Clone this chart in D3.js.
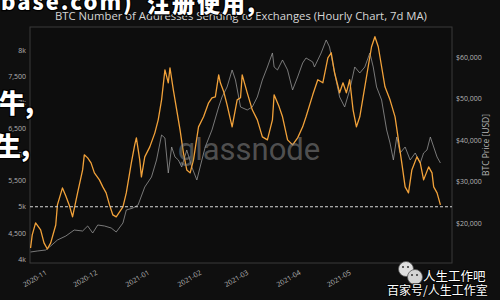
<!DOCTYPE html>
<html><head><meta charset="utf-8">
<script src="https://cdn.jsdelivr.net/npm/d3@7"></script>
<style>
html,body{margin:0;padding:0;background:#0f0f0f;overflow:hidden;}
svg{display:block;}
</style></head><body>
<svg id="c" width="500" height="300"></svg>
<script>
// ---------- data ----------
const addrDates = ["2020-10-24","2020-10-25","2020-10-27","2020-10-30","2020-11-01","2020-11-03","2020-11-05","2020-11-08","2020-11-09","2020-11-12","2020-11-14","2020-11-16","2020-11-18","2020-11-21","2020-11-24","2020-11-25","2020-11-27","2020-11-29","2020-12-01","2020-12-04","2020-12-06","2020-12-08","2020-12-10","2020-12-12","2020-12-14","2020-12-16","2020-12-18","2020-12-20","2020-12-23","2020-12-25","2020-12-26","2020-12-28","2020-12-29","2020-12-31","2021-01-03","2021-01-06","2021-01-08","2021-01-10","2021-01-12","2021-01-14","2021-01-15","2021-01-17","2021-01-19","2021-01-21","2021-01-23","2021-01-25","2021-01-27","2021-01-29","2021-02-01","2021-02-04","2021-02-07","2021-02-09","2021-02-11","2021-02-13","2021-02-14","2021-02-16","2021-02-18","2021-02-21","2021-02-24","2021-02-26","2021-02-27","2021-03-02","2021-03-05","2021-03-08","2021-03-11","2021-03-14","2021-03-17","2021-03-18","2021-03-21","2021-03-23","2021-03-26","2021-03-29","2021-04-01","2021-04-04","2021-04-06","2021-04-10","2021-04-13","2021-04-16","2021-04-19","2021-04-21","2021-04-23","2021-04-26","2021-04-28","2021-04-30","2021-05-02","2021-05-04","2021-05-06","2021-05-08","2021-05-10","2021-05-13","2021-05-15","2021-05-17","2021-05-19","2021-05-21","2021-05-23","2021-05-26","2021-05-29","2021-05-31","2021-06-02","2021-06-04","2021-06-06","2021-06-08","2021-06-11","2021-06-13","2021-06-15","2021-06-18","2021-06-20","2021-06-21","2021-06-23","2021-06-25"];
const addrValues = [4211,4460,4690,4556,4307,4192,4307,4651,5035,5360,5207,5035,4805,5265,5705,5993,5935,5839,5648,5514,5380,5265,5035,4843,4805,4901,4996,5265,5839,6184,6318,5897,5571,5954,6146,6414,6663,7046,7621,7372,7659,7238,6855,6472,6031,5705,5648,5897,6529,6721,6989,7085,7104,7525,7372,7200,6951,6529,7046,7085,7525,7180,6855,6663,6338,6280,6663,7142,6912,6721,6280,6184,6318,6529,6721,7142,7430,7372,7851,7947,7564,7180,7372,7180,7430,6855,6529,6721,7104,7679,8062,8254,8062,7679,7295,7046,6721,6280,5839,5380,5265,5705,5954,5839,5514,5763,5648,5380,5265,5035];

const priceDates = ["2020-10-24","2020-10-28","2020-11-02","2020-11-05","2020-11-09","2020-11-14","2020-11-19","2020-11-24","2020-11-27","2020-11-30","2020-12-03","2020-12-07","2020-12-11","2020-12-14","2020-12-18","2020-12-20","2020-12-24","2020-12-27","2020-12-31","2021-01-04","2021-01-07","2021-01-10","2021-01-12","2021-01-14","2021-01-16","2021-01-18","2021-01-20","2021-01-22","2021-01-25","2021-01-28","2021-01-31","2021-02-03","2021-02-05","2021-02-09","2021-02-13","2021-02-15","2021-02-18","2021-02-21","2021-02-23","2021-02-26","2021-03-02","2021-03-05","2021-03-08","2021-03-11","2021-03-14","2021-03-17","2021-03-18","2021-03-20","2021-03-23","2021-03-26","2021-03-29","2021-04-01","2021-04-04","2021-04-06","2021-04-10","2021-04-11","2021-04-15","2021-04-18","2021-04-20","2021-04-23","2021-04-26","2021-04-29","2021-05-02","2021-05-05","2021-05-08","2021-05-11","2021-05-14","2021-05-16","2021-05-18","2021-05-21","2021-05-24","2021-05-26","2021-05-28","2021-05-30","2021-06-01","2021-06-04","2021-06-07","2021-06-10","2021-06-13","2021-06-15","2021-06-17","2021-06-19","2021-06-21","2021-06-23","2021-06-25"];
const priceValues = [13011,13252,13493,14457,15903,16867,18313,18072,19277,17590,19518,19277,18795,17831,20000,23133,23615,24338,28676,31086,35183,41208,40485,32050,38316,35906,35183,33496,37593,33496,30363,35183,38316,42413,47956,50366,52776,56873,54463,47956,47233,47956,50366,54463,57596,60970,57596,56873,59283,56873,52053,55186,58560,59765,58801,57596,60970,64103,62416,56150,50366,47956,52053,57596,56150,57596,60970,57596,52776,49643,42413,39280,35183,40726,36870,38316,35183,36870,34460,36870,37593,40726,38316,35906,34460];

const leftTicks = [4000,4500,5000,5500,6000,6500,7000,7500,8000];
const leftTickLabels = ["4k","4,500","5k","5,500","6k","6,500","7k","7,500","8k"];
const rightTicks = [20000,30000,40000,50000,60000];
const rightTickLabels = ["$20,000","$30,000","$40,000","$50,000","$60,000"];
const monthTicks = ["2020-11-01","2020-12-01","2021-01-01","2021-02-01","2021-03-01","2021-04-01","2021-05-01"];
const monthLabels = ["2020-11","2020-12","2021-01","2021-02","2021-03","2021-04","2021-05"];
const thresholdValue = 5000;
const titleText = "BTC Number of Addresses Sending to Exchanges (Hourly Chart, 7d MA)";
const rightAxisTitle = "BTC Price [USD]";

// ---------- layout ----------
const W = 500, H = 300;
const m = {left: 30, right: 452, top: 27, bottom: 263};
const parse = d3.utcParse("%Y-%m-%d");
const DAY = 86400000;
const nov1 = parse("2020-11-01");

const x = d3.scaleUtc()
  .domain([new Date(+nov1 - 8.33*DAY), new Date(+nov1 + 242.9*DAY)])
  .range([m.left, m.right]);
const yL = d3.scaleLinear().domain([3923, 8440]).range([m.bottom, m.top]);
const yR = d3.scaleLinear().domain([10361, 67229]).range([m.bottom, m.top]);

const svg = d3.select("#c");
svg.append("rect").attr("width", W).attr("height", H).attr("fill", "#0f0f0f");

// plot frame
svg.append("rect").attr("x", m.left).attr("y", m.top)
  .attr("width", m.right - m.left).attr("height", m.bottom - m.top)
  .attr("fill", "#0d0d0d").attr("stroke", "#3a3a3a").attr("stroke-width", 1);

const tickFont = "'Open Sans', 'DejaVu Sans', sans-serif";

// left axis
const gL = svg.append("g").attr("transform", `translate(${m.left},0)`)
  .call(d3.axisLeft(yL).tickValues(leftTicks).tickSize(0).tickPadding(4)
    .tickFormat((d, i) => leftTickLabels[i]));
gL.select(".domain").remove();
gL.selectAll("text").attr("fill", "#b4b4b4").style("font-family", tickFont).style("font-size", "7px");

// right axis
const gR = svg.append("g").attr("transform", `translate(${m.right},0)`)
  .call(d3.axisRight(yR).tickValues(rightTicks).tickSize(0).tickPadding(4)
    .tickFormat((d, i) => rightTickLabels[i]));
gR.select(".domain").remove();
gR.selectAll("text").attr("fill", "#b4b4b4").style("font-family", tickFont).style("font-size", "7px");

svg.append("text")
  .attr("transform", `translate(489,145) rotate(-90)`)
  .attr("text-anchor", "middle")
  .attr("fill", "#b4b4b4").style("font-family", tickFont).style("font-size", "8.5px")
  .text(rightAxisTitle);

// bottom axis
const gB = svg.append("g").attr("transform", `translate(0,${m.bottom})`)
  .call(d3.axisBottom(x).tickValues(monthTicks.map(parse)).tickSize(0)
    .tickFormat((d, i) => monthLabels[i]));
gB.select(".domain").remove();
gB.selectAll("text")
  .attr("x", 0).attr("y", 0).attr("dy", 0)
  .attr("text-anchor", "end")
  .attr("transform", "translate(3,11) rotate(-30)")
  .attr("fill", "#b4b4b4").style("font-family", tickFont).style("font-size", "7px");

// lines
svg.append("clipPath").attr("id", "pc").append("rect")
  .attr("x", m.left).attr("y", m.top).attr("width", m.right - m.left).attr("height", m.bottom - m.top);

const priceLine = d3.line().x((d, i) => x(parse(priceDates[i]))).y(d => yR(d));
svg.append("path").datum(priceValues)
  .attr("d", priceLine).attr("fill", "none")
  .attr("stroke", "#9a9a9a").attr("stroke-width", 0.9).attr("stroke-opacity", 0.85)
  .attr("clip-path", "url(#pc)");

const addrLine = d3.line().x((d, i) => x(parse(addrDates[i]))).y(d => yL(d));
svg.append("path").datum(addrValues)
  .attr("d", addrLine).attr("fill", "none")
  .attr("stroke", "#f2a23a").attr("stroke-width", 1.3).attr("stroke-linejoin", "round")
  .attr("clip-path", "url(#pc)");

// threshold dashed line
svg.append("line")
  .attr("x1", m.left).attr("x2", m.right)
  .attr("y1", yL(thresholdValue)).attr("y2", yL(thresholdValue))
  .attr("stroke", "#d8d8d8").attr("stroke-width", 1.2).attr("stroke-dasharray", "3,2");

// watermark
svg.append("text").attr("x", 249).attr("y", 160).attr("text-anchor", "middle")
  .style("font-family", "Roboto, 'Open Sans', sans-serif").style("font-size", "31px").style("font-weight", 400)
  .attr("fill", "#8a8a8a").attr("fill-opacity", 0.55).text("glassnode");

// title
const title = svg.append("text").attr("x", 241).attr("y", 20).attr("text-anchor", "middle")
  .attr("fill", "#d6d6d6").style("font-family", tickFont).style("font-size", "12px")
  .text(titleText);
const tl = title.node().getComputedTextLength();
title.style("font-size", (12 * 372 / tl).toFixed(2) + "px");

// overlay texts
const cjk = "'Noto Sans CJK SC', sans-serif";
function overlay(t, xx, yy, fs, ls) {
  svg.append("text").attr("x", xx).attr("y", yy)
    .style("font-family", cjk).style("font-size", fs + "px").style("font-weight", 900)
    .style("letter-spacing", (ls || 0) + "px")
    .attr("fill", "#ffffff").attr("stroke", "#000").attr("stroke-width", 2.5)
    .style("paint-order", "stroke").text(t);
}
overlay("base.com)", 1, 10, 22, 2);
overlay("注册使用,", 147, 12, 23, 2);
overlay("牛,", -1, 113, 26);
overlay("生,", -5, 156, 26);

// bottom-right badge
const badge = svg.append("g");
badge.append("circle").attr("cx", 406).attr("cy", 269).attr("r", 7.5).attr("fill", "#e0e0e0").attr("stroke", "#555").attr("stroke-width", 0.8);
badge.append("circle").attr("cx", 415).attr("cy", 277).attr("r", 7.5).attr("fill", "#d4d4d4").attr("stroke", "#555").attr("stroke-width", 0.8);
[[403,267],[408,267],[412,275],[417,275]].forEach(p =>
  badge.append("circle").attr("cx", p[0]).attr("cy", p[1]).attr("r", 1).attr("fill", "#333"));
function overlay2(t, xx, yy, fs) {
  svg.append("text").attr("x", xx).attr("y", yy)
    .style("font-family", cjk).style("font-size", fs + "px").style("font-weight", 400)
    .attr("fill", "#ffffff").attr("stroke", "#000").attr("stroke-width", 1.5)
    .style("paint-order", "stroke").text(t);
}
overlay2("人生工作吧", 423, 281, 12.5);
overlay2("百家号/人生工作室", 387, 295, 12);
</script>
</body></html>
